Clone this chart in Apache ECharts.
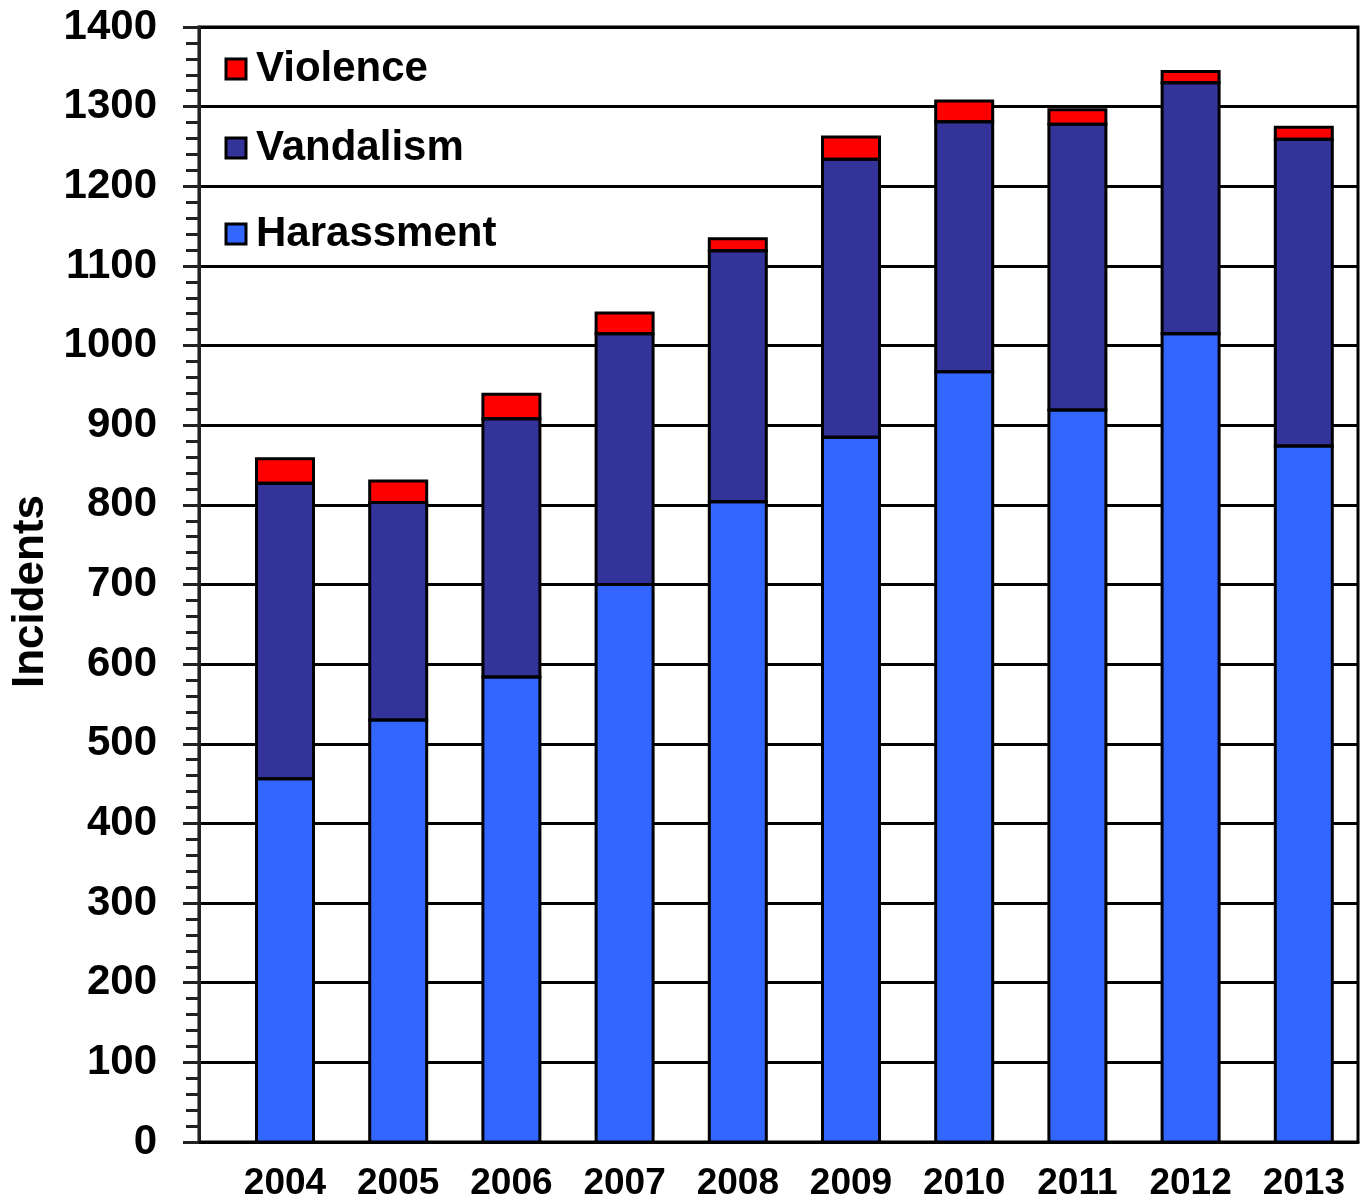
<!DOCTYPE html>
<html>
<head>
<meta charset="utf-8">
<title>Incidents by type, 2004–2013</title>
<script src="https://cdn.jsdelivr.net/npm/echarts@6/dist/echarts.min.js"></script>
<style>
  html, body { margin: 0; padding: 0; background: #fff; }
  #chart { width: 1361px; height: 1203px; }
</style>
</head>
<body>
<div id="chart"></div>
<script>
// Yearly incident counts, split by type (stacked)
const years = ['2004', '2005', '2006', '2007', '2008', '2009', '2010', '2011', '2012', '2013'];
const harassment = [456, 530, 584, 700, 804, 885, 967, 919, 1015, 874];
const vandalism  = [371, 273, 324, 315, 315, 349, 314, 359, 315, 385];
const violence   = [31, 27, 31, 26, 15, 28, 26, 18, 14, 15];

const yMin = 0, yMax = 1400, yStep = 100;
const FONT = '"Liberation Sans", Arial, sans-serif';
const colors = { Harassment: '#3366FF', Vandalism: '#333399', Violence: '#FF0000' };
const BAR_W = 57;

const chart = echarts.init(document.getElementById('chart'), null, { renderer: 'canvas' });

function barSeries(name, values) {
  return {
    name: name,
    type: 'bar',
    stack: 'total',
    xAxisIndex: 1,
    yAxisIndex: 1,
    barWidth: BAR_W,
    data: values,
    itemStyle: { color: colors[name] },
    emphasis: { disabled: true },
    silent: true
  };
}

// black outlines around each stacked segment (shared edges drawn once)
const outlineData = years.map((_, i) => [i, harassment[i], vandalism[i], violence[i]]);

function renderOutline(params, api) {
  const i = api.value(0);
  const h = api.value(1), v = api.value(2), vi = api.value(3);
  const base = api.coord([i, 0]);
  const cx = base[0];
  const levels = [0, h, h + v, h + v + vi].map(val => api.coord([i, val])[1]);
  const children = [];
  for (let k = 0; k < 3; k++) {
    const top = levels[k + 1], bottom = levels[k];
    children.push({
      type: 'rect',
      shape: { x: cx - BAR_W / 2, y: top, width: BAR_W, height: bottom - top },
      style: { fill: 'none', stroke: '#000', lineWidth: 3 }
    });
  }
  return { type: 'group', children: children };
}

function legendItem(name, top) {
  return {
    orient: 'vertical',
    left: 219.5,
    top: top,
    itemWidth: 20,
    itemHeight: 20,
    selectedMode: false,
    icon: 'rect',
    itemStyle: { borderColor: '#000', borderWidth: 3 },
    data: [{ name: name, icon: 'rect', itemStyle: { color: colors[name], borderColor: '#000', borderWidth: 3 } }],
    textStyle: { fontFamily: FONT, fontWeight: 'bold', fontSize: 42, color: '#000', padding: [0, 0, 0, 5] }
  };
}

chart.setOption({
  animation: false,
  backgroundColor: '#fff',
  legend: [
    legendItem('Violence', 43),
    legendItem('Vandalism', 122),
    legendItem('Harassment', 208)
  ],
  grid: [
    // frame, value axis and gridlines
    { left: 199, right: 3, top: 27, bottom: 61, show: true, borderColor: '#000', borderWidth: 3,
      containLabel: false, outerBoundsMode: 'none' },
    // category band for the bars
    { left: 228.4, right: 0.6, top: 27, bottom: 61, containLabel: false, outerBoundsMode: 'none' }
  ],
  xAxis: [
    {
      gridIndex: 0, type: 'value', min: 0, max: 1,
      axisLine: { show: true, lineStyle: { color: '#000', width: 3 } },
      axisTick: { show: false }, axisLabel: { show: false }, splitLine: { show: false }
    },
    {
      gridIndex: 1, type: 'category', data: years,
      axisLine: { show: false }, axisTick: { show: false },
      axisLabel: { margin: 23, fontFamily: FONT, fontWeight: 'bold', fontSize: 37, color: '#000' }
    }
  ],
  yAxis: [
    {
      gridIndex: 0, type: 'value', min: yMin, max: yMax, interval: yStep,
      name: 'Incidents', nameLocation: 'middle', nameGap: 138, nameRotate: 90,
      nameTextStyle: { fontFamily: FONT, fontWeight: 'bold', fontSize: 44, color: '#000', padding: [0, 14, 0, 0] },
      axisLine: { show: true, lineStyle: { color: '#222', width: 3 } },
      axisTick: { show: true, length: 16, lineStyle: { color: '#222', width: 3 } },
      minorTick: { show: true, splitNumber: 5, length: 13, lineStyle: { color: '#222', width: 3 } },
      axisLabel: { margin: 42, fontFamily: FONT, fontWeight: 'bold', fontSize: 42, color: '#000',
                   formatter: val => String(val) },
      splitLine: { show: true, lineStyle: { color: '#000', width: 3 } }
    },
    {
      gridIndex: 1, type: 'value', min: yMin, max: yMax, interval: yStep, show: false,
      splitLine: { show: false }
    }
  ],
  series: [
    barSeries('Harassment', harassment),
    barSeries('Vandalism', vandalism),
    barSeries('Violence', violence),
    {
      name: 'outline',
      type: 'custom',
      xAxisIndex: 1,
      yAxisIndex: 1,
      data: outlineData,
      encode: { x: 0, y: 1 },
      renderItem: renderOutline,
      silent: true,
      z: 3
    }
  ]
});
</script>
</body>
</html>
